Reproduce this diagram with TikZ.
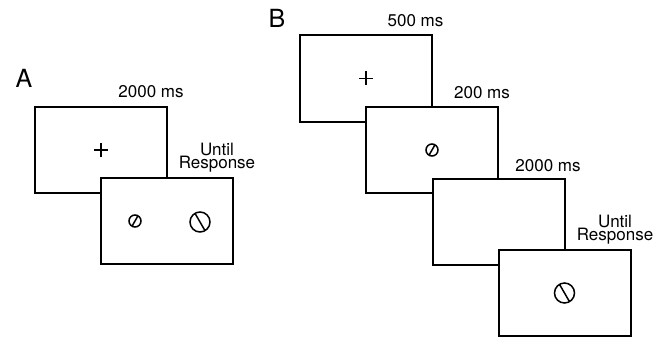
\documentclass[tikz,border=0pt]{standalone}
\usepackage{fontspec}
\setmainfont{TeX Gyre Heros}
\begin{document}
\begin{tikzpicture}[x=1pt,y=-1pt,
  screen/.style={draw=black,fill=white,line width=2pt,minimum width=132pt,minimum height=86pt,inner sep=0pt},
  lbl/.style={anchor=base,inner sep=0pt,font=\fontsize{17}{12}\selectfont},
  ulbl/.style={anchor=south,inner sep=0pt,align=center,font=\fontsize{17}{13}\selectfont},
  panel/.style={anchor=base,inner sep=0pt,font=\fontsize{25}{25}\selectfont},
  stim/.style={line width=1.5pt},
  crossl/.style={line width=1.3pt}]
\useasboundingbox (0,0) rectangle (667,337);
% Panel A
\node[panel] (pA) at (24,88) {A};
\node[screen] (a1) at (101,150) {};
\node[screen] (a2) at (167,221) {};
\node[lbl] (ta1) at (151,98) {2000 ms};
\node[ulbl] (ta2) at (217,172) {Until\\Response};
\draw[crossl] (a1.center) +(-7,0) -- +(7,0) (a1.center) +(0,-7) -- +(0,7);
\coordinate (ca1) at (135,221);
\coordinate (ca2) at (200,222);
\draw[stim] (ca1) circle (6) (ca1) +(120:6) -- +(300:6);
\draw[stim] (ca2) circle (10) (ca2) +(240:10) -- +(60:10);
% Panel B
\node[panel] (pB) at (277,28) {B};
\node[screen] (b1) at (366,78.5) {};
\node[screen] (b2) at (432,150) {};
\node[screen] (b3) at (498.5,221.5) {};
\node[screen] (b4) at (564.5,293) {};
\node[lbl] (tb1) at (415.5,27) {500 ms};
\node[lbl] (tb2) at (482,99) {200 ms};
\node[lbl] (tb3) at (548,171) {2000 ms};
\node[ulbl] (tb4) at (615,244) {Until\\Response};
\draw[crossl] (b1.center) +(-7,0) -- +(7,0) (b1.center) +(0,-7) -- +(0,7);
\draw[stim] (b2.center) circle (6) (b2.center) +(120:6) -- +(300:6);
\draw[stim] (b4.center) circle (10) (b4.center) +(240:10) -- +(60:10);
\end{tikzpicture}
\end{document}
